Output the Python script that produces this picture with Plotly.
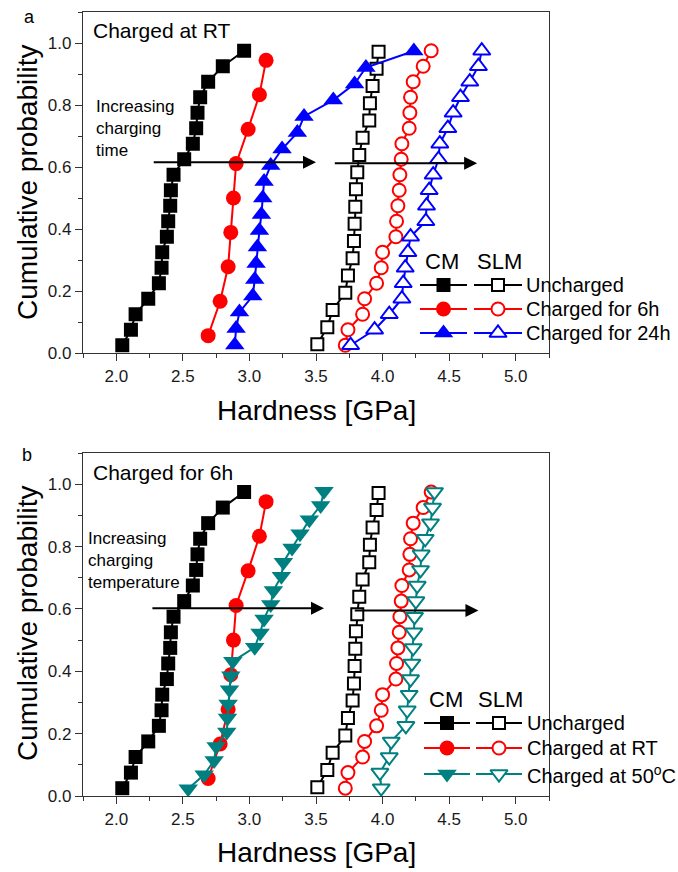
import plotly.graph_objects as go

# ---------------- data ----------------
# hardness values [GPa]
cm_uncharged_h = [2.045, 2.11, 2.145, 2.24, 2.32, 2.34, 2.345, 2.38, 2.39, 2.405,
                  2.41, 2.43, 2.51, 2.575, 2.60, 2.61, 2.63, 2.69, 2.80, 2.96]
cm_uncharged_p = [0.025, 0.075, 0.125, 0.175, 0.225, 0.275, 0.325, 0.375, 0.425, 0.475,
                  0.525, 0.575, 0.625, 0.675, 0.725, 0.775, 0.825, 0.875, 0.925, 0.975]

cm_6h_h = [2.69, 2.78, 2.84, 2.86, 2.88, 2.90, 2.99, 3.075, 3.125]
cm_6h_p = [0.056, 0.167, 0.278, 0.389, 0.500, 0.611, 0.722, 0.833, 0.944]

cm_24h_h = [2.89, 2.90, 2.925, 3.025, 3.04, 3.05, 3.06, 3.075, 3.09, 3.10,
            3.11, 3.16, 3.245, 3.36, 3.41, 3.63, 3.79, 3.875, 4.235]
cm_24h_p = [0.026, 0.079, 0.132, 0.184, 0.237, 0.289, 0.342, 0.395, 0.447, 0.500,
            0.553, 0.605, 0.658, 0.711, 0.763, 0.816, 0.868, 0.921, 0.974]

slm_uncharged_h = [3.51, 3.585, 3.625, 3.72, 3.74, 3.775, 3.785, 3.79, 3.795, 3.80,
                   3.81, 3.825, 3.85, 3.90, 3.905, 3.925, 3.955, 3.97]
slm_uncharged_p = [0.028, 0.083, 0.139, 0.194, 0.250, 0.306, 0.361, 0.417, 0.472, 0.528,
                   0.583, 0.639, 0.694, 0.750, 0.806, 0.861, 0.917, 0.972]

slm_6h_h = [3.72, 3.74, 3.85, 3.865, 3.955, 3.99, 4.0, 4.10, 4.105, 4.115,
            4.125, 4.13, 4.14, 4.145, 4.20, 4.205, 4.21, 4.23, 4.305, 4.365]
slm_6h_p = [0.025, 0.075, 0.125, 0.175, 0.225, 0.275, 0.325, 0.375, 0.425, 0.475,
            0.525, 0.575, 0.625, 0.675, 0.725, 0.775, 0.825, 0.875, 0.925, 0.975]

slm_24h_h = [3.76, 3.94, 4.05, 4.145, 4.155, 4.17, 4.19, 4.21, 4.325, 4.33,
             4.35, 4.38, 4.42, 4.43, 4.49, 4.53, 4.585, 4.655, 4.72, 4.745]
slm_24h_p = [0.025, 0.075, 0.125, 0.175, 0.225, 0.275, 0.325, 0.375, 0.425, 0.475,
             0.525, 0.575, 0.625, 0.675, 0.725, 0.775, 0.825, 0.875, 0.925, 0.975]

cm_50c_h = [2.54, 2.66, 2.735, 2.75, 2.83, 2.835, 2.84, 2.85, 2.86, 2.875, 3.04,
            3.08, 3.11, 3.16, 3.18, 3.24, 3.255, 3.32, 3.38, 3.45, 3.535, 3.56]
cm_50c_p = [0.023, 0.068, 0.114, 0.159, 0.205, 0.250, 0.295, 0.341, 0.386, 0.432, 0.477,
            0.523, 0.568, 0.614, 0.659, 0.705, 0.750, 0.795, 0.841, 0.886, 0.932, 0.977]

slm_50c_h = [3.99, 3.98, 4.05, 4.065, 4.175, 4.185, 4.20, 4.21, 4.22, 4.23,
             4.235, 4.24, 4.25, 4.26, 4.285, 4.29, 4.32, 4.36, 4.375, 4.39]
slm_50c_p = [0.025, 0.075, 0.125, 0.175, 0.225, 0.275, 0.325, 0.375, 0.425, 0.475,
             0.525, 0.575, 0.625, 0.675, 0.725, 0.775, 0.825, 0.875, 0.925, 0.975]

x_ticks = [2.0, 2.5, 3.0, 3.5, 4.0, 4.5, 5.0]
y_ticks = [0.0, 0.2, 0.4, 0.6, 0.8, 1.0]

legend_top = ["Uncharged", "Charged for 6h", "Charged for 24h"]
legend_bot = ["Uncharged", "Charged at RT", "Charged at 50<sup>o</sup>C"]

# ---------------- styling ----------------
FONT = "Liberation Sans, Arial, sans-serif"
BLACK, RED, BLUE, TEAL = "#000000", "#FF0000", "#0000FF", "#008080"
W, H = 678, 872
ML, MR, MT, MB = 83, 129, 12, 76
PW, PH = W - ML - MR, H - MT - MB


def px(x):
    return (x - ML) / PW


def py(y):
    return (H - MB - y) / PH


fig = go.Figure()


def series(x, y, color, symbol, size, filled, xa, ya):
    fig.add_trace(go.Scatter(
        x=x, y=y, mode="lines+markers", xaxis=xa, yaxis=ya,
        line=dict(color=color, width=2),
        marker=dict(symbol=symbol, size=size,
                    color=color if filled else "white",
                    line=dict(color=color, width=0 if filled else 2)),
        showlegend=False, cliponaxis=False, hoverinfo="skip"))


# top panel (a)
series(cm_uncharged_h, cm_uncharged_p, BLACK, "square", 14, True, "x", "y")
series(slm_uncharged_h, slm_uncharged_p, BLACK, "square", 12, False, "x", "y")
series(cm_6h_h, cm_6h_p, RED, "circle", 15, True, "x", "y")
series(slm_6h_h, slm_6h_p, RED, "circle", 13, False, "x", "y")
series(cm_24h_h, cm_24h_p, BLUE, "triangle-up", 17, True, "x", "y")
series(slm_24h_h, slm_24h_p, BLUE, "triangle-up", 15, False, "x", "y")

# bottom panel (b)
series(cm_uncharged_h, cm_uncharged_p, BLACK, "square", 14, True, "x2", "y2")
series(slm_uncharged_h, slm_uncharged_p, BLACK, "square", 12, False, "x2", "y2")
series(cm_6h_h, cm_6h_p, RED, "circle", 15, True, "x2", "y2")
series(slm_6h_h, slm_6h_p, RED, "circle", 13, False, "x2", "y2")
series(cm_50c_h, cm_50c_p, TEAL, "triangle-down", 17, True, "x2", "y2")
series(slm_50c_h, slm_50c_p, TEAL, "triangle-down", 15, False, "x2", "y2")

# ---------------- custom legends (pixel overlay axes) ----------------
annotations = []


def txt(x, y, s, size, xanchor="left", angle=0):
    annotations.append(dict(x=px(x), y=py(y), xref="paper", yref="paper", text=s,
                            showarrow=False, textangle=angle,
                            font=dict(family=FONT, size=size, color="black"),
                            xanchor=xanchor, yanchor="middle", align="left"))


def legend_block(rows_y, head_y, cm_x, slm_x, seg1, seg2, text_x, labels, colors, syms, fsizes):
    txt(cm_x, head_y, "CM", 22, "center")
    txt(slm_x, head_y, "SLM", 22, "center")
    for yy, lab, col, sym, (sf, so) in zip(rows_y, labels, colors, syms, fsizes):
        for (a, b), filled, sz in ((seg1, True, sf), (seg2, False, so)):
            fig.add_trace(go.Scatter(x=[a, b], y=[yy, yy], mode="lines", xaxis="x3", yaxis="y3",
                                     line=dict(color=col, width=2), showlegend=False,
                                     cliponaxis=False, hoverinfo="skip"))
            fig.add_trace(go.Scatter(x=[(a + b) / 2], y=[yy], mode="markers", xaxis="x3", yaxis="y3",
                                     marker=dict(symbol=sym, size=sz,
                                                 color=col if filled else "white",
                                                 line=dict(color=col, width=0 if filled else 2)),
                                     showlegend=False, cliponaxis=False, hoverinfo="skip"))
        txt(text_x, yy, lab, 20)


legend_block([285, 309, 333], 261, 442, 499, (420, 467), (474, 522), 524, legend_top,
             [BLACK, RED, BLUE], ["square", "circle", "triangle-up"],
             [(14, 12), (15, 13), (17, 15)])
legend_block([723, 748, 774], 699, 446, 500, (424, 470), (476, 522), 525, legend_bot,
             [BLACK, RED, TEAL], ["square", "circle", "triangle-down"],
             [(14, 12), (15, 13), (17, 15)])

# ---------------- texts ----------------
txt(29, 17, "a", 18, "center")
txt(27, 455, "b", 18, "center")
txt(91, 30, "Charged at RT", 21)
txt(94, 128, "Increasing<br>charging<br>time", 17)
txt(91, 472, "Charged for 6h", 21)
txt(86, 560, "Increasing<br>charging<br>temperature", 17)
txt(316, 410, "Hardness [GPa]", 28, "center")
txt(316, 852, "Hardness [GPa]", 28, "center")
txt(27, 183, "Cumulative probability", 28, "center", -90)
txt(27, 624, "Cumulative probability", 28, "center", -90)


# arrows (data coordinates)
def arrow(xr, yr, x0, x1, y):
    annotations.append(dict(x=x1, y=y, ax=x0, ay=y, xref=xr, yref=yr, axref=xr, ayref=yr,
                            text="", showarrow=True, arrowhead=2, arrowsize=1.3,
                            arrowwidth=2, arrowcolor="black"))


arrow("x", "y", 2.27, 3.50, 0.615)
arrow("x", "y", 3.63, 4.71, 0.612)
arrow("x2", "y2", 2.26, 3.56, 0.602)
arrow("x2", "y2", 3.78, 4.72, 0.595)

# ---------------- axes ----------------
axis_common = dict(showline=True, mirror=True, linecolor="#333333", linewidth=1.3,
                   ticks="outside", ticklen=7, tickwidth=1.2, tickcolor="#333333",
                   showgrid=False, zeroline=False,
                   tickfont=dict(family=FONT, size=17, color="#1a1a1a"))

xa = dict(axis_common, range=[1.75, 5.25], tickvals=x_ticks,
          ticktext=[f"{v:.1f}" for v in x_ticks],
          minor=dict(dtick=0.25, tick0=1.75, ticklen=4, tickwidth=1.2,
                     tickcolor="#333333", ticks="outside"))
ya = dict(axis_common, range=[0, 1.1], tickvals=y_ticks,
          ticktext=[f"{v:.1f}" for v in y_ticks],
          minor=dict(dtick=0.1, tick0=0.1, ticklen=4, tickwidth=1.2,
                     tickcolor="#333333", ticks="outside"))

top_dom = [(796 - 353) / PH, 1.0]
bot_dom = [0.0, (796 - 453) / PH]

fig.update_layout(
    width=W, height=H,
    margin=dict(l=ML, r=MR, t=MT, b=MB),
    paper_bgcolor="white", plot_bgcolor="rgba(0,0,0,0)",
    showlegend=False,
    xaxis=dict(xa, domain=[0, 1], anchor="y"),
    yaxis=dict(ya, domain=top_dom, anchor="x"),
    xaxis2=dict(xa, domain=[0, 1], anchor="y2"),
    yaxis2=dict(ya, domain=bot_dom, anchor="x2"),
    xaxis3=dict(domain=[0, 1], range=[ML, W - MR], visible=False, anchor="y3", fixedrange=True),
    yaxis3=dict(domain=[0, 1], range=[H - MB, MT], visible=False, anchor="x3", fixedrange=True),
    annotations=annotations,
    font=dict(family=FONT),
)

fig.write_html("out.html", config={"displayModeBar": False},
               post_script="document.body.style.margin='0px';document.body.style.padding='0px';")
